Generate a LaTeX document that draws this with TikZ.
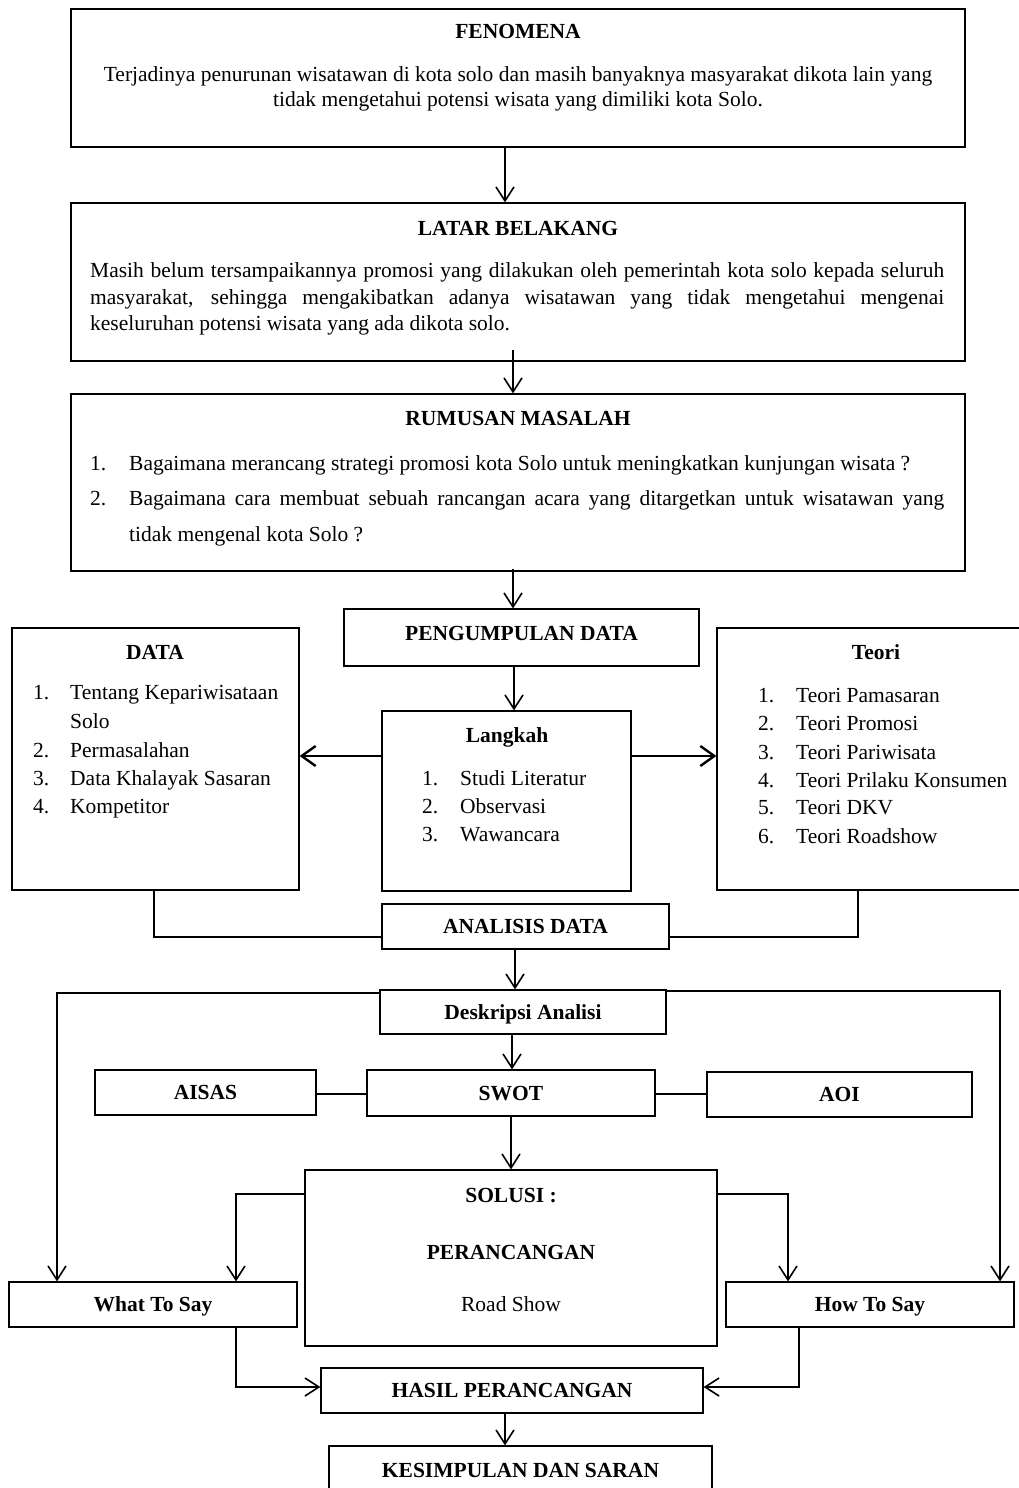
\documentclass[tikz,border=0pt]{standalone}
\usepackage{fontspec}
\setmainfont{Liberation Serif}
\usetikzlibrary{arrows.meta}
\tikzset{
  fnt/.style={font=\fontsize{21.5}{25}\selectfont},
  bfnt/.style={font=\fontsize{21.5}{25}\selectfont\bfseries},
  box/.style={draw, line width=1.2pt, inner sep=0pt, bfnt, text height=16pt, text depth=2pt},
  txt/.style={inner sep=0pt, fnt, anchor=mid west},
  ctxt/.style={inner sep=0pt, fnt, anchor=mid},
  ttl/.style={inner sep=0pt, bfnt, anchor=base, yshift=-7pt},
  conn/.style={line width=1.6pt},
  arr/.style={line width=1.6pt, -{Straight Barb[length=14pt,width=18pt]}},
  thickarr/.style={line width=2.4pt, -{Straight Barb[length=14pt,width=20pt]}}
}
\begin{document}
\begin{tikzpicture}[x=1pt,y=-1pt]
\useasboundingbox (0,0) rectangle (1019,1488);
\fill[white] (0,0) rectangle (1019,1488);

% ---------- boxes ----------
\node[box, minimum width=894pt, minimum height=138pt] (fen) at (518,78) {};
\node[box, minimum width=894pt, minimum height=158pt] (lat) at (518,282) {};
\node[box, minimum width=894pt, minimum height=177pt] (rum) at (518,482.5) {};
\node[box, minimum width=355pt, minimum height=57pt] (peng) at (521.5,637.5) {};
\node[ttl] (pengt) at (521.5,633) {PENGUMPULAN DATA};
\node[box, minimum width=287pt, minimum height=262pt] (data) at (155.5,759) {};
\node[box, minimum width=313pt, minimum height=262pt] (teori) at (873.5,759) {};
\node[box, minimum width=249pt, minimum height=180pt] (lang) at (506.5,801) {};
\node[box, minimum width=287pt, minimum height=45pt] (ana) at (525.5,926.5) {ANALISIS DATA};
\node[box, minimum width=286pt, minimum height=44pt] (desk) at (523,1012) {Deskripsi Analisi};
\node[box, minimum width=221pt, minimum height=45pt] (aisas) at (205.5,1092.5) {AISAS};
\node[box, minimum width=288pt, minimum height=46pt] (swot) at (511,1093) {SWOT};
\node[box, minimum width=265pt, minimum height=45pt] (aoi) at (839.5,1094.5) {AOI};
\node[box, minimum width=412pt, minimum height=176pt] (sol) at (511,1258) {};
\node[box, minimum width=288pt, minimum height=45pt] (what) at (153,1304.5) {What To Say};
\node[box, minimum width=288pt, minimum height=45pt] (how) at (870,1304.5) {How To Say};
\node[box, minimum width=382pt, minimum height=45pt] (hasil) at (512,1390.5) {HASIL PERANCANGAN};
\node[box, minimum width=383pt, minimum height=48pt] (kes) at (520.5,1470) {KESIMPULAN DAN SARAN};

% ---------- texts inside large boxes ----------
\node[ttl] (fent) at (518,32) {FENOMENA};
\node[ctxt] (fen1) at (518,79) {Terjadinya penurunan wisatawan di kota solo dan masih banyaknya masyarakat dikota lain yang};
\node[ctxt] (fen2) at (518,104) {tidak mengetahui potensi wisata yang dimiliki kota Solo.};

\node[ttl] (latt) at (518,228) {LATAR BELAKANG};
\node[txt] (lat1) at (90,275) {\makebox[854pt][s]{Masih belum tersampaikannya promosi yang dilakukan oleh pemerintah kota solo kepada seluruh}};
\node[txt] (lat2) at (90,302) {\makebox[854pt][s]{masyarakat, sehingga mengakibatkan adanya wisatawan yang tidak mengetahui mengenai}};
\node[txt] (lat3) at (90,328) {keseluruhan potensi wisata yang ada dikota solo.};

\node[ttl] (rumt) at (518,418) {RUMUSAN MASALAH};
\node[txt] (rumn1) at (90,468) {1.};
\node[txt] (rum1) at (129,468) {Bagaimana merancang strategi promosi kota Solo untuk meningkatkan kunjungan wisata ?};
\node[txt] (rumn2) at (90,503) {2.};
\node[txt] (rum2) at (129,503) {\makebox[815pt][s]{Bagaimana cara membuat sebuah rancangan acara yang ditargetkan untuk wisatawan yang}};
\node[txt] (rum3) at (129,539) {tidak mengenal kota Solo ?};

\node[ttl] (datat) at (155,652) {DATA};
\node[txt] (dn1) at (33,697) {1.};
\node[txt] (d1) at (70,697) {Tentang Kepariwisataan};
\node[txt] (d1b) at (70,726) {Solo};
\node[txt] (dn2) at (33,755) {2.};
\node[txt] (d2) at (70,755) {Permasalahan};
\node[txt] (dn3) at (33,783) {3.};
\node[txt] (d3) at (70,783) {Data Khalayak Sasaran};
\node[txt] (dn4) at (33,811) {4.};
\node[txt] (d4) at (70,811) {Kompetitor};

\node[ttl] (teorit) at (876,652) {Teori};
\node[txt] (tn1) at (758,700) {1.};
\node[txt] (t1) at (796,700) {Teori Pamasaran};
\node[txt] (tn2) at (758,728) {2.};
\node[txt] (t2) at (796,728) {Teori Promosi};
\node[txt] (tn3) at (758,757) {3.};
\node[txt] (t3) at (796,757) {Teori Pariwisata};
\node[txt] (tn4) at (758,785) {4.};
\node[txt] (t4) at (796,785) {Teori Prilaku Konsumen};
\node[txt] (tn5) at (758,812) {5.};
\node[txt] (t5) at (796,812) {Teori DKV};
\node[txt] (tn6) at (758,841) {6.};
\node[txt] (t6) at (796,841) {Teori Roadshow};

\node[ttl] (langt) at (507,735) {Langkah};
\node[txt] (ln1) at (422,783) {1.};
\node[txt] (l1) at (460,783) {Studi Literatur};
\node[txt] (ln2) at (422,811) {2.};
\node[txt] (l2) at (460,811) {Observasi};
\node[txt] (ln3) at (422,839) {3.};
\node[txt] (l3) at (460,839) {Wawancara};

\node[ttl] (solt) at (511,1195) {SOLUSI :};
\node[ttl] (solp) at (511,1252) {PERANCANGAN};
\node[ctxt] (solr) at (511,1309) {Road Show};

% ---------- bend coordinates ----------
\coordinate (a1) at (505,0);
\coordinate (a2) at (513,0);
\coordinate (a4) at (514,0);
\coordinate (a5) at (515,0);
\coordinate (a6) at (512,0);
\coordinate (a8) at (505,0);
\coordinate (lm) at (0,756);
\coordinate (dbl) at (154,937);
\coordinate (tbr) at (858,937);
\coordinate (dl) at (57,993);
\coordinate (dr) at (1000,991);
\coordinate (sy) at (0,1094);
\coordinate (sl) at (236,1194);
\coordinate (sr) at (788,1194);
\coordinate (wl) at (236,1387);
\coordinate (hr) at (799,1387);

% ---------- connectors ----------
\draw[arr] (fen.south -| a1) -- (lat.north -| a1);
\draw[arr] ([yshift=12pt]lat.south -| a2) -- (rum.north -| a2);
\draw[arr] ([yshift=3pt]rum.south -| a2) -- (peng.north -| a2);
\draw[arr] (peng.south -| a4) -- (lang.north -| a4);
\draw[thickarr] (lang.west |- lm) -- (data.east |- lm);
\draw[thickarr] (lang.east |- lm) -- (teori.west |- lm);
\draw[conn] (data.south -| dbl) -- (dbl) -- (ana.west |- dbl);
\draw[conn] (teori.south -| tbr) -- (tbr) -- (ana.east |- tbr);
\draw[arr] (ana.south -| a5) -- (desk.north -| a5);
\draw[arr] (desk.west |- dl) -- (dl) -- (what.north -| dl);
\draw[arr] (desk.east |- dr) -- (dr) -- (how.north -| dr);
\draw[arr] (desk.south -| a6) -- (swot.north -| a6);
\draw[conn] (aisas.east |- sy) -- (swot.west |- sy);
\draw[conn] (swot.east |- sy) -- (aoi.west |- sy);
\draw[arr] (swot.south -| sol.north) -- (sol.north);
\draw[arr] (sol.west |- sl) -- (sl) -- (what.north -| sl);
\draw[arr] (sol.east |- sr) -- (sr) -- (how.north -| sr);
\draw[arr] (what.south -| wl) -- (wl) -- (hasil.west |- wl);
\draw[arr] (how.south -| hr) -- (hr) -- (hasil.east |- hr);
\draw[arr] (hasil.south -| a8) -- (kes.north -| a8);
\end{tikzpicture}
\end{document}
